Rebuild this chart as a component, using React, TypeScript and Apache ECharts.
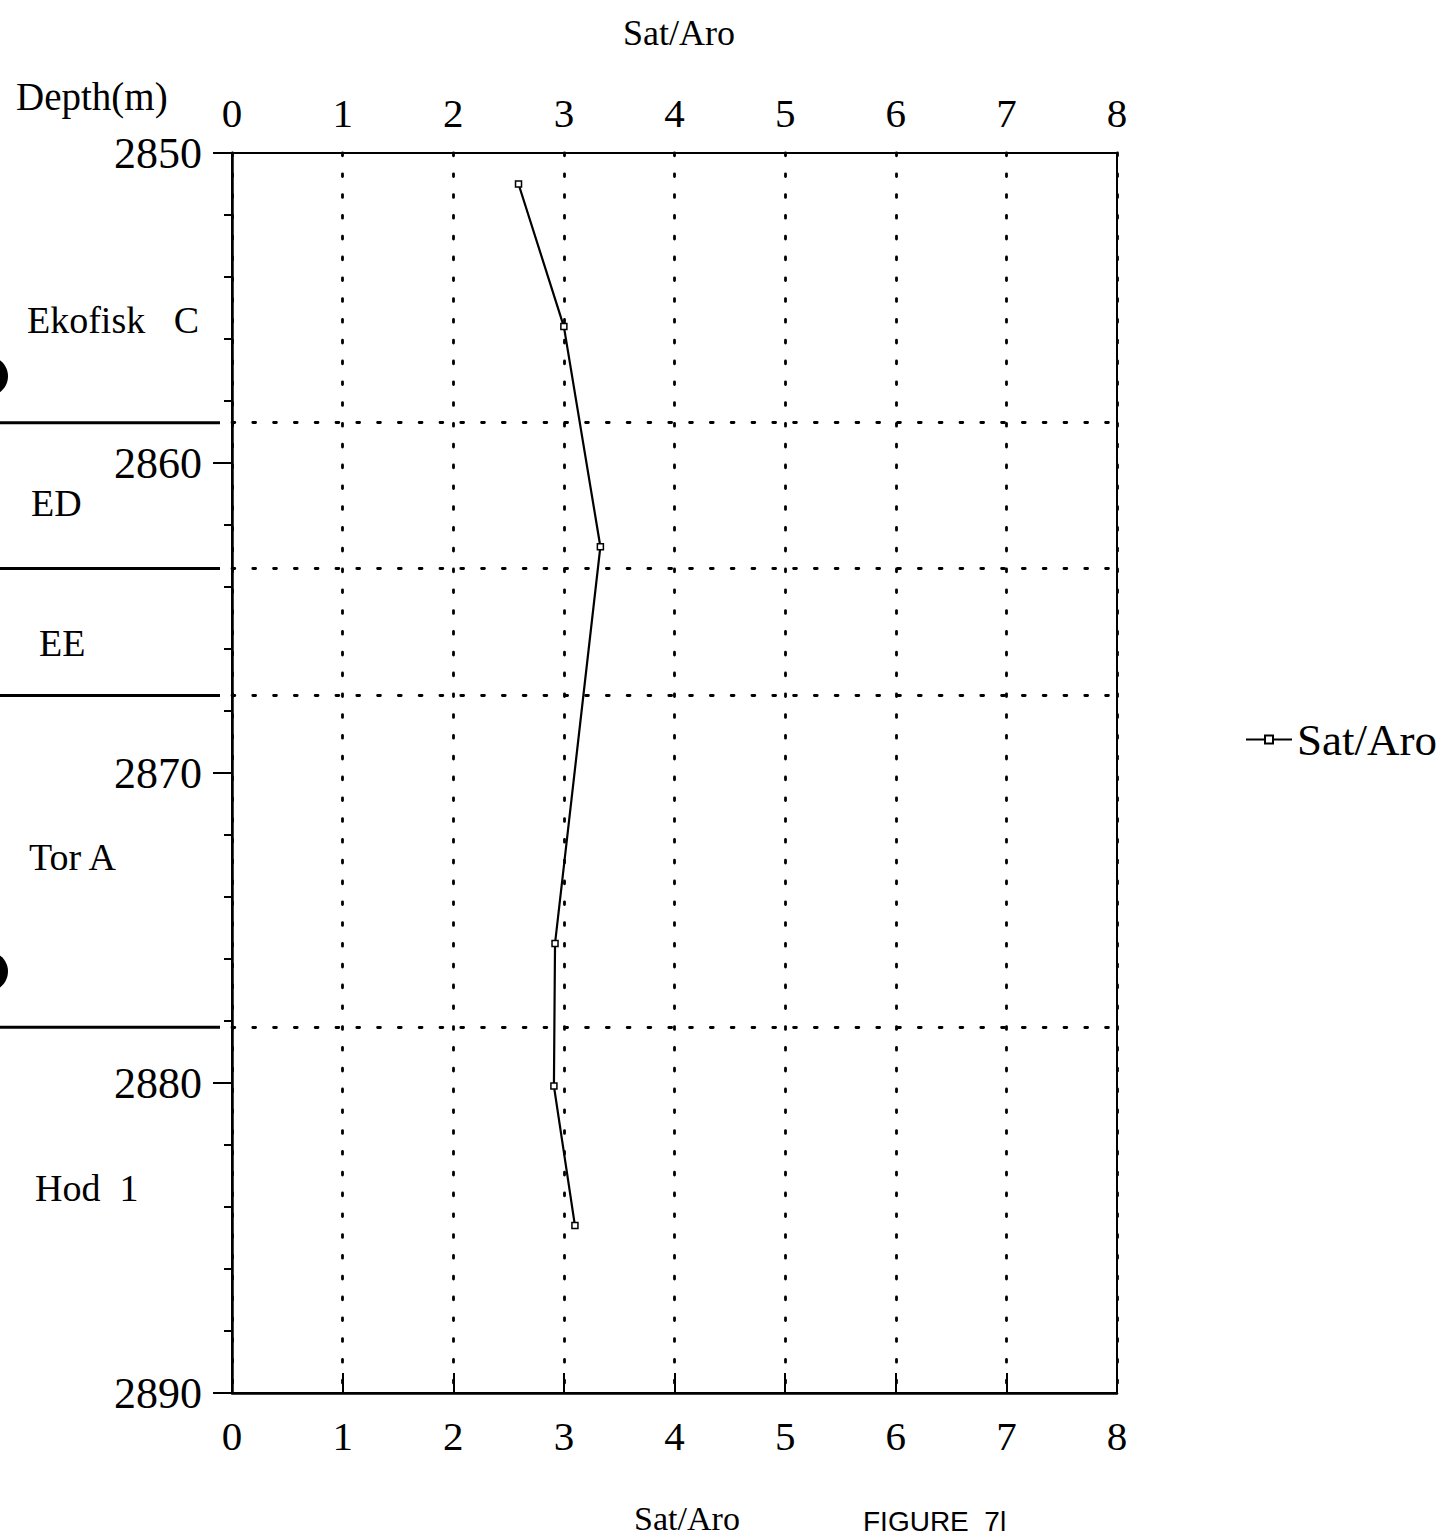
import React, { useEffect, useRef } from "react";
import * as echarts from "echarts";

const satAro = [2.59, 3.0, 3.33, 2.92, 2.91, 3.1];
const depths = [2851.0, 2855.6, 2862.7, 2875.5, 2880.1, 2884.6];
const xTicks = [0, 1, 2, 3, 4, 5, 6, 7, 8];
const yTicks = [2850, 2860, 2870, 2880, 2890];
const boundaries = [2858.7, 2863.4, 2867.5, 2878.2];
const formationNames = ["Ekofisk   C", "ED", "EE", "Tor A", "Hod  1"];
const formationDepths = [2855.4, 2861.3, 2865.8, 2872.7, 2883.4];
const holeDepths = [2857.2, 2876.4];

const SERIF = "'Liberation Serif', 'Times New Roman', serif";

export default function App() {
  const ref = useRef<HTMLDivElement>(null);
  useEffect(() => {
    if (!ref.current) return;
    const chart = echarts.init(ref.current, undefined, { renderer: "svg" });
    const option: any = {
      animation: false,
      backgroundColor: "#fff",
      textStyle: { fontFamily: SERIF, color: "#000" },
      grid: {
        left: 232,
        top: 153,
        width: 885,
        height: 1240,
        show: true,
        borderColor: "#000",
        borderWidth: 2,
        backgroundColor: "transparent",
      },
      title: [
        { text: "Sat/Aro", left: 674, top: 10, textAlign: "center", textStyle: { fontFamily: SERIF, fontSize: 36, fontWeight: "normal", color: "#000" } },
        { text: "Sat/Aro", left: 682, top: 1496, textAlign: "center", textStyle: { fontFamily: SERIF, fontSize: 34, lineHeight: 34, fontWeight: "normal", color: "#000" } },
        { text: "Depth(m)", left: 11, top: 72, textStyle: { fontFamily: SERIF, fontSize: 39, fontWeight: "normal", color: "#000" } },
        { text: "FIGURE  7l", left: 858, top: 1502, textStyle: { fontFamily: "'Liberation Sans', Arial, sans-serif", fontSize: 28, lineHeight: 28, fontWeight: "normal", color: "#000" } },
      ],
      legend: {
        left: 1240,
        top: 712,
        itemWidth: 46,
        itemHeight: 10,
        itemGap: 10,
        textStyle: { fontFamily: SERIF, fontSize: 45, color: "#000" },
        data: ["Sat/Aro"],
      },
      xAxis: [
        {
          type: "value",
          position: "top",
          min: 0,
          max: 8,
          interval: 1,
          axisLine: { show: true, lineStyle: { color: "#000", width: 2 } },
          axisTick: { show: false },
          axisLabel: {
            fontFamily: SERIF,
            fontSize: 41,
            color: "#000",
            margin: 20,
            formatter: (v: number) => (xTicks.includes(v) ? String(v) : ""),
          },
          splitLine: {
            show: true,
            lineStyle: { color: "#000", width: 2.8, type: [2.8, 18], cap: "round" },
          },
        },
        {
          type: "value",
          position: "bottom",
          min: 0,
          max: 8,
          interval: 1,
          axisLine: { show: true, lineStyle: { color: "#000", width: 2.5 } },
          axisTick: { show: true, inside: true, length: 20, lineStyle: { color: "#000", width: 2 } },
          axisLabel: {
            fontFamily: SERIF,
            fontSize: 41,
            color: "#000",
            margin: 22,
            formatter: (v: number) => (xTicks.includes(v) ? String(v) : ""),
          },
          splitLine: { show: false },
        },
      ],
      yAxis: {
        type: "value",
        inverse: true,
        min: 2850,
        max: 2890,
        interval: 10,
        axisLine: { show: true, lineStyle: { color: "#000", width: 2.5 } },
        axisTick: { show: true, inside: false, length: 19, lineStyle: { color: "#000", width: 2 } },
        minorTick: { show: true, splitNumber: 5, length: 8, lineStyle: { color: "#000", width: 2 } },
        axisLabel: {
          fontFamily: SERIF,
          fontSize: 44,
          color: "#000",
          margin: 30,
          formatter: (v: number) => (yTicks.includes(v) ? String(v) : ""),
        },
        splitLine: { show: false },
      },
      series: [
        {
          name: "Sat/Aro",
          type: "line",
          xAxisIndex: 0,
          data: satAro.map((v, i) => [v, depths[i]]),
          symbol: "rect",
          symbolSize: 6,
          showSymbol: true,
          lineStyle: { color: "#000", width: 2.2 },
          itemStyle: { color: "#fff", borderColor: "#000", borderWidth: 1.5 },
          markLine: {
            silent: true,
            symbol: "none",
            label: { show: false },
            lineStyle: { color: "#000", width: 2.8, type: [2.8, 18], cap: "round" },
            data: boundaries.map((d) => ({ yAxis: d })),
          },
          z: 5,
        },
        {
          name: "boundaries",
          type: "custom",
          xAxisIndex: 0,
          clip: false,
          silent: true,
          data: boundaries.map((d) => [0, d]),
          renderItem: (params: any, api: any) => {
            const p = api.coord([0, api.value(1)]);
            return {
              type: "line",
              shape: { x1: 0, y1: p[1], x2: p[0] - 12, y2: p[1] },
              style: { stroke: "#000", lineWidth: 3 },
            };
          },
        },
        {
          name: "formations",
          type: "custom",
          xAxisIndex: 0,
          clip: false,
          silent: true,
          data: formationDepths.map((d, i) => [0, d, i]),
          renderItem: (params: any, api: any) => {
            const p = api.coord([0, api.value(1)]);
            const idx = api.value(2);
            return {
              type: "text",
              x: idx === 0 ? 27 : idx === 1 ? 31 : idx === 2 ? 39 : idx === 3 ? 29 : 35,
              y: p[1],
              style: {
                text: formationNames[idx],
                fontFamily: SERIF,
                fontSize: 38,
                fill: "#000",
                textVerticalAlign: "middle",
                verticalAlign: "middle",
              },
            };
          },
        },
        {
          name: "holes",
          type: "custom",
          xAxisIndex: 0,
          clip: false,
          silent: true,
          data: holeDepths.map((d) => [0, d]),
          renderItem: (params: any, api: any) => {
            const p = api.coord([0, api.value(1)]);
            return {
              type: "circle",
              shape: { cx: -12, cy: p[1], r: 20 },
              style: { fill: "#000" },
            };
          },
        },
      ],
    };
    chart.setOption(option);
    return () => chart.dispose();
  }, []);
  return (
    <div
      ref={ref}
      style={{ position: "absolute", left: 0, top: 0, width: 1452, height: 1539, background: "#fff" }}
    />
  );
}
